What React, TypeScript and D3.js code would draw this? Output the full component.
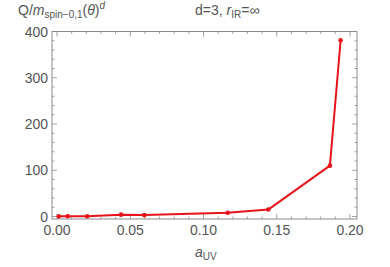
import React, { useEffect, useRef } from "react";
import * as d3 from "d3";

const aUV = [0.0012, 0.0073, 0.0207, 0.0437, 0.0596, 0.1165, 0.1442, 0.1863, 0.1936];
const qValues = [0.3, 0.5, 0.7, 4, 3, 8, 15, 110, 381];
const xTicks = [0, 0.05, 0.1, 0.15, 0.2];
const yTicks = [0, 100, 200, 300, 400];

const W = 390;
const H = 267;

const App = () => {
  const ref = useRef<SVGSVGElement>(null);

  useEffect(() => {
    const svg = d3.select(ref.current);
    svg.selectAll("*").remove();

    const frame = { left: 52, right: 357, top: 31.5, bottom: 219 };
    const x = d3.scaleLinear().domain([0, 0.2]).range([57, 350]);
    const y = d3.scaleLinear().domain([0, 400]).range([216.5, 31.5]);
    const gray = "#8c8c8c";
    const textGray = "#555";
    const font = "'Liberation Sans', Arial, sans-serif";

    // frame
    svg
      .append("rect")
      .attr("x", frame.left)
      .attr("y", frame.top)
      .attr("width", frame.right - frame.left)
      .attr("height", frame.bottom - frame.top)
      .attr("fill", "none")
      .attr("stroke", gray)
      .attr("stroke-width", 1);

    // x ticks (major + minor, all frame sides)
    const xMinor = d3.range(0, 0.2041, 0.01);
    xMinor.forEach((v) => {
      const major = xTicks.some((t) => Math.abs(t - v) < 1e-6);
      const len = major ? 5 : 2.5;
      svg.append("line").attr("x1", x(v)).attr("x2", x(v))
        .attr("y1", frame.bottom).attr("y2", frame.bottom - len)
        .attr("stroke", gray).attr("stroke-width", 0.8);
      svg.append("line").attr("x1", x(v)).attr("x2", x(v))
        .attr("y1", frame.top).attr("y2", frame.top + len)
        .attr("stroke", gray).attr("stroke-width", 0.8);
    });
    xTicks.forEach((t) => {
      svg.append("text").attr("x", x(t)).attr("y", frame.bottom + 16)
        .attr("text-anchor", "middle").attr("font-family", font)
        .attr("font-size", 14).attr("fill", textGray)
        .text(d3.format(".2f")(t));
    });

    // y ticks
    const yMinor = d3.range(0, 401, 20);
    yMinor.forEach((v) => {
      const major = v % 100 === 0;
      const len = major ? 5 : 2.5;
      svg.append("line").attr("y1", y(v)).attr("y2", y(v))
        .attr("x1", frame.left).attr("x2", frame.left + len)
        .attr("stroke", gray).attr("stroke-width", 0.8);
      svg.append("line").attr("y1", y(v)).attr("y2", y(v))
        .attr("x1", frame.right).attr("x2", frame.right - len)
        .attr("stroke", gray).attr("stroke-width", 0.8);
    });
    yTicks.forEach((t) => {
      svg.append("text").attr("x", frame.left - 4).attr("y", y(t) + 5)
        .attr("text-anchor", "end").attr("font-family", font)
        .attr("font-size", 14).attr("fill", textGray)
        .text(t);
    });

    const pts = aUV.map((a, i) => [a, qValues[i]] as [number, number]);
    const line = d3.line<[number, number]>().x((d) => x(d[0])).y((d) => y(d[1]));
    svg.append("path").attr("d", line(pts)).attr("fill", "none")
      .attr("stroke", "#e8141b").attr("stroke-width", 2)
      .attr("stroke-linejoin", "round");
    svg.selectAll("circle.pt").data(pts).join("circle")
      .attr("cx", (d) => x(d[0])).attr("cy", (d) => y(d[1]))
      .attr("r", 2.3).attr("fill", "#e8141b");

    // title: Q/m_{spin-0,1}(θ)^d
    const t1 = svg.append("text").attr("x", 18).attr("y", 15)
      .attr("font-family", font).attr("font-size", 14).attr("fill", textGray);
    t1.append("tspan").text("Q/");
    t1.append("tspan").attr("font-style", "italic").text("m");
    t1.append("tspan").attr("font-size", 10).attr("dy", 3).text("spin\u22120,1");
    t1.append("tspan").attr("dy", -3).text("(");
    t1.append("tspan").attr("font-style", "italic").text("\u03b8");
    t1.append("tspan").text(")");
    t1.append("tspan").attr("font-style", "italic").attr("font-size", 10).attr("dy", -6).text("d");

    const t2 = svg.append("text").attr("x", 195).attr("y", 15)
      .attr("font-family", font).attr("font-size", 14).attr("fill", textGray);
    t2.append("tspan").text("d=3, ");
    t2.append("tspan").attr("font-style", "italic").text("r");
    t2.append("tspan").attr("font-size", 10).attr("dy", 3).text("IR");
    t2.append("tspan").attr("dy", -3).text("=\u221e");

    const t3 = svg.append("text").attr("x", 195).attr("y", 257)
      .attr("font-family", font).attr("font-size", 14).attr("fill", textGray);
    t3.append("tspan").attr("font-style", "italic").text("a");
    t3.append("tspan").attr("font-size", 10).attr("dy", 3).text("UV");
  }, []);

  return <svg ref={ref} width={W} height={H} style={{ position: "absolute", left: 0, top: 0 }}></svg>;
};

export default App;
